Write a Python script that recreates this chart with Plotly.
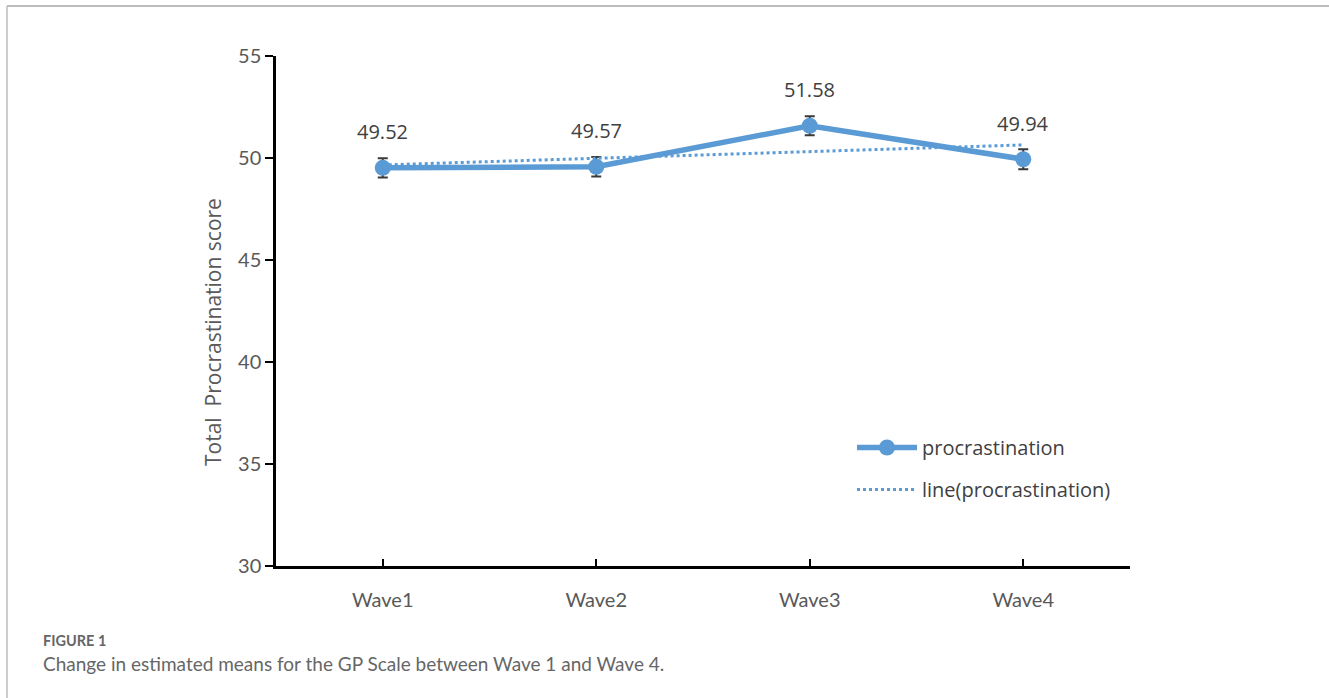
import plotly.graph_objects as go

waves = ["Wave1", "Wave2", "Wave3", "Wave4"]
means = [49.52, 49.57, 51.58, 49.94]
errors = [0.47, 0.48, 0.47, 0.49]
trend = [49.66, 49.99, 50.32, 50.64]
mean_labels = ["49.52", "49.57", "51.58", "49.94"]
y_ticks = [30, 35, 40, 45, 50, 55]

W, H = 1329, 698
L, R, T, B = 276, 199, 56, 132
PW, PH = W - L - R, H - T - B


def px(x):
    return (x - L) / PW


def py(y):
    return (H - B - y) / PH


BLUE = "#5B9BD5"
GREY = "#595959"

fig = go.Figure()
fig.add_trace(go.Scatter(
    x=waves, y=means, name="procrastination", mode="lines+markers", legendgroup="a",
    line=dict(color=BLUE, width=5.5), marker=dict(color=BLUE, size=16),
    error_y=dict(type="data", array=errors, visible=True, color="#3a3a3a", thickness=2, width=5),
))
fig.add_trace(go.Scatter(
    x=waves, y=trend, name="line(procrastination)", mode="lines", legendgroup="b",
    line=dict(color=BLUE, width=3, dash="dot"),
))

for w, m, t in zip(waves, means, mean_labels):
    fig.add_annotation(x=w, y=m, text=t, showarrow=False, yshift=36,
                       font=dict(family="Open Sans", size=20, color="#404040"))

# y-axis title
fig.add_annotation(xref="paper", yref="paper", x=px(213), y=py(332), textangle=-90,
                   text="Total  Procrastination score", showarrow=False,
                   xanchor="center", yanchor="middle",
                   font=dict(family="Open Sans", size=21, color=GREY))

# page frame
fig.add_shape(type="line", xref="paper", yref="paper", x0=px(7), x1=px(W), y0=py(6), y1=py(6),
              line=dict(color="#bdbdbd", width=2))
fig.add_shape(type="line", xref="paper", yref="paper", x0=px(7), x1=px(7), y0=py(6), y1=py(H),
              line=dict(color="#bdbdbd", width=1.5))

fig.add_annotation(xref="paper", yref="paper", x=px(41), y=py(640), xanchor="left", yanchor="middle",
                   text="<b>FIGURE 1</b>", showarrow=False,
                   font=dict(family="Lato", size=14.5, color="#666666"))
fig.add_annotation(xref="paper", yref="paper", x=px(41), y=py(663), xanchor="left", yanchor="middle",
                   text="Change in estimated means for the GP Scale between Wave 1 and Wave 4.", showarrow=False,
                   font=dict(family="Lato", size=19, color="#666666"))

fig.update_layout(
    width=W, height=H, margin=dict(l=L, r=R, t=T, b=B),
    plot_bgcolor="white", paper_bgcolor="white",
    showlegend=True,
    legend=dict(x=px(852), y=py(428), xanchor="left", yanchor="top", traceorder="grouped",
                font=dict(family="Open Sans", size=20, color="#404040"),
                itemwidth=60, tracegroupgap=13, bgcolor="rgba(0,0,0,0)"),
    xaxis=dict(type="category", range=[-0.5, 3.5], showline=True, linecolor="black", linewidth=2.5,
               ticks="inside", ticklen=7, tickwidth=2, tickcolor="black", showgrid=False, zeroline=False,
               ticklabelstandoff=14,
               tickfont=dict(family="Lato", size=20, color=GREY)),
    yaxis=dict(range=[30, 55], tickvals=y_ticks, showline=True, linecolor="black", linewidth=2.5,
               ticks="outside", ticklen=8, tickwidth=2, tickcolor="black", showgrid=False, zeroline=False,
               tickfont=dict(family="Lato", size=20, color=GREY)),
)

fig.write_html("out.html", config={"displayModeBar": False},
               post_script="document.body.style.margin='0';document.body.style.padding='0';")
